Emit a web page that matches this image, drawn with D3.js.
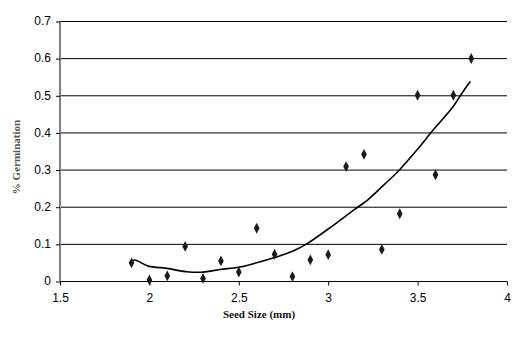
<!DOCTYPE html>
<html><head><meta charset="utf-8">
<script src="https://cdn.jsdelivr.net/npm/d3@7"></script>
<style>body{margin:0;background:#fff}svg{display:block}</style>
</head><body>
<svg id="c" width="521" height="354"></svg>
<script>
const seedSize = [1.9,2.0,2.1,2.2,2.3,2.4,2.5,2.6,2.7,2.8,2.9,3.0,3.1,3.2,3.3,3.4,3.5,3.6,3.7,3.8];
const germination = [0.049,0.003,0.014,0.093,0.007,0.054,0.024,0.142,0.072,0.012,0.057,0.071,0.308,0.341,0.085,0.181,0.5,0.286,0.5,0.599];
const trendX = [1.888,1.916,1.994,2.097,2.209,2.30,2.395,2.5,2.6,2.70,2.80,2.88,3.0,3.14,3.225,3.31,3.398,3.5,3.588,3.698,3.747,3.795];
const trendY = [0.048,0.0565,0.040,0.034,0.025,0.024,0.031,0.037,0.049,0.063,0.080,0.100,0.140,0.190,0.22,0.258,0.299,0.355,0.407,0.469,0.505,0.538];
const xTicks = [1.5,2,2.5,3,3.5,4];
const yTicks = [0,0.1,0.2,0.3,0.4,0.5,0.6,0.7];

const svg = d3.select("#c");
const L=60,R=507,T=21,B=281;
const x = d3.scaleLinear().domain([1.5,4]).range([L,R]);
const y = d3.scaleLinear().domain([0,0.7]).range([B,T]);

// gridlines
svg.append("g").selectAll("line").data(yTicks.filter(d=>d>0)).join("line")
  .attr("x1",L).attr("x2",R).attr("y1",d=>y(d)+0.5).attr("y2",d=>y(d)+0.5)
  .attr("stroke","#000").attr("stroke-width",1);

// y axis
const ya = svg.append("g").attr("transform",`translate(${L},0)`)
  .call(d3.axisLeft(y).tickValues(yTicks).tickSize(4).tickPadding(5).tickFormat(d3.format("")));
ya.select(".domain").attr("stroke","#808080").attr("stroke-width",2).attr("d",`M0,${T}V${B}`);
ya.selectAll(".tick line").attr("stroke","#000").attr("transform","translate(0,0.5)");
ya.selectAll(".tick text").attr("font-family","Liberation Sans, Arial, sans-serif").attr("font-size",12).attr("fill","#000");

// x axis
const xa = svg.append("g").attr("transform",`translate(0,${B+0.5})`)
  .call(d3.axisBottom(x).tickValues(xTicks).tickSize(4).tickPadding(8).tickFormat(d3.format("")));
xa.select(".domain").attr("stroke","#000").attr("d",`M${L},0H${R}`);
xa.selectAll(".tick line").attr("stroke","#000");
xa.selectAll(".tick text").attr("font-family","Liberation Sans, Arial, sans-serif").attr("font-size",12).attr("fill","#000");

// trendline
const line = d3.line().x(d=>x(d[0])).y(d=>y(d[1])).curve(d3.curveCatmullRom.alpha(0.5));
svg.append("path").datum(trendX.map((v,i)=>[v,trendY[i]]))
  .attr("d",line).attr("fill","none").attr("stroke","#000").attr("stroke-width",1.6);

// points
const sym = d3.symbol().type(d3.symbolDiamond).size(28);
svg.append("g").selectAll("path").data(seedSize.map((v,i)=>[v,germination[i]])).join("path")
  .attr("d",sym).attr("transform",d=>`translate(${x(d[0])},${y(d[1])}) scale(1,1.1)`)
  .attr("fill","#1a1a1a");

// axis titles
svg.append("text").attr("x",259).attr("y",318).attr("text-anchor","middle")
  .attr("font-family","Liberation Serif, Times New Roman, serif").attr("font-size",11).attr("font-weight","bold")
  .attr("fill","#111").text("Seed Size (mm)");
svg.append("text").attr("transform","translate(20,157) rotate(-90)").attr("text-anchor","middle")
  .attr("font-family","Liberation Serif, Times New Roman, serif").attr("font-size",11).attr("font-weight","bold")
  .attr("fill","#555").text("% Germination");
</script>
</body></html>
